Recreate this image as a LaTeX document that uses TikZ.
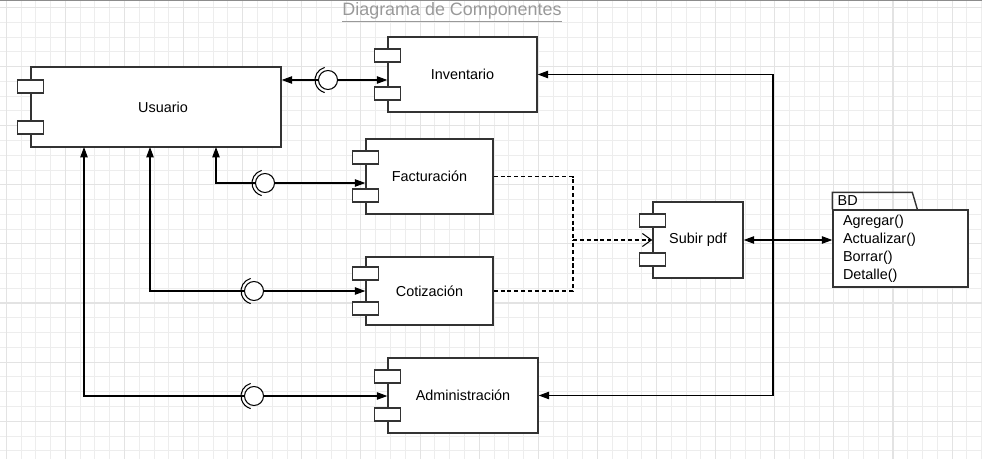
\documentclass[tikz,border=0pt]{standalone}
\usepackage{fontspec}
\setmainfont{Liberation Sans}
\usetikzlibrary{arrows.meta,calc}

\tikzset{
  comp/.style={draw=black!80, line width=0.8pt, fill=white, rectangle, inner sep=0pt,
    font=\fontsize{8.2}{10}\selectfont},
  port/.style={draw=black!80, line width=0.8pt, fill=white, rectangle, inner sep=0pt,
    minimum width=0.52cm, minimum height=0.26cm},
  flow/.style={line width=0.6pt, -{Triangle[length=2.1mm,width=1.5mm]}},
  flowboth/.style={line width=0.6pt, {Triangle[length=2.1mm,width=1.5mm]}-{Triangle[length=2.1mm,width=1.5mm]}},
  dep/.style={line width=0.6pt, dash pattern=on 2.3pt off 1.6pt},
  gridminor/.style={draw=black!7, line width=0.5pt},
  gridmajor/.style={draw=black!11, line width=0.6pt},
  lolli/.pic={
    \draw[line width=0.6pt, fill=white] (0,0) circle[radius=0.19cm];
    \draw[line width=0.6pt] (0,0) ++(105:0.26cm) arc[start angle=105, end angle=255, radius=0.26cm];
  }
}

\newcommand{\compports}[1]{%
  \node[port] (#1-p1) at ($(#1.north west)!0.25!(#1.south west)$) {};
  \node[port] (#1-p2) at ($(#1.north west)!0.75!(#1.south west)$) {};
}

\begin{document}
\begin{tikzpicture}[x=0.02cm, y=-0.02cm]
  \useasboundingbox (0,0) rectangle (982,459);

  % grid
  \foreach \i in {0,...,66} {
    \draw[gridminor] ({6.2+14.78*\i},0) -- ++(0,459);
  }
  \foreach \j in {0,...,30} {
    \draw[gridminor] (0,{7.4+14.78*\j}) -- ++(982,0);
  }
  \foreach \i in {0,4,...,64} {
    \draw[gridmajor] ({6.2+14.78*\i},0) -- ++(0,459);
  }
  \foreach \j in {0,4,...,28} {
    \draw[gridmajor] (0,{7.4+14.78*\j}) -- ++(982,0);
  }
  \draw[draw=black!45, line width=0.8pt] (0,0.7) -- (982,0.7);

  \node[font=\fontsize{10.2}{12}\selectfont, text=black!40, anchor=base, inner sep=0pt] (titulo)
    at (452,15.5) {\underline{Diagrama de Componentes}};

  % components
  \node[comp, minimum width=5cm, minimum height=1.6cm] (usuario) at (156,107) {\hspace*{0.28cm}Usuario};
  \node[comp, minimum width=2.98cm, minimum height=1.5cm] (inventario) at (462.5,74.5) {Inventario};
  \node[comp, minimum width=2.54cm, minimum height=1.5cm] (facturacion) at (429.5,176.5) {Facturación};
  \node[comp, minimum width=2.54cm, minimum height=1.36cm] (cotizacion) at (429.5,291) {Cotización};
  \node[comp, minimum width=3cm, minimum height=1.5cm] (administracion) at (463,395.5) {Administración};
  \node[comp, minimum width=1.8cm, minimum height=1.52cm] (subir) at (698,240) {Subir pdf};

  % package BD
  \node[comp, minimum width=2.7cm, minimum height=1.54cm, text width=2.3cm, align=left,
    font=\fontsize{8.2}{10.2}\selectfont] (bd) at (900.5,248.5)
    {Agregar()\\Actualizar()\\Borrar()\\Detalle()};
  \draw[draw=black!80, line width=0.8pt] (bd.north west) -- ++(0,-17) -- ++(80,0) -- ++(5,17);
  \node[font=\fontsize{8.2}{10}\selectfont, anchor=west, inner sep=0pt] (bdtab)
    at ($(bd.north west)+(5,-8.5)$) {BD};

  \coordinate (lolI) at (328,80);
  \coordinate (lolF) at (265,183);
  \coordinate (lolC) at (254,291);
  \coordinate (lolA) at (254,396);
  \coordinate (usuF) at (216,147);
  \coordinate (usuC) at (150,147);
  \coordinate (usuA) at (84,147);
  \coordinate (junc) at (573,240);
  \coordinate (busT) at (773,74.5);
  \coordinate (busB) at (773,395.5);

  % interfaces
  \draw[flowboth] (usuario.east |- lolI) -- (inventario.west |- lolI);
  \draw[flowboth] (usuF) |- (facturacion.west |- lolF);
  \draw[flowboth] (usuC) |- (cotizacion.west |- lolC);
  \draw[flowboth] (usuA) |- (administracion.west |- lolA);

  \draw[dep] (facturacion.east) -| (junc);
  \draw[dep] (cotizacion.east) -| (junc);
  \draw[dep, -{Straight Barb[length=1.8mm,width=2.6mm]}] (junc) -- (subir.west);

  \draw[flowboth] (inventario.east) -- (busT) -- (busB) -- (administracion.east);
  \draw[flowboth] (subir.east) -- (subir.east -| bd.west);

  \compports{usuario}
  \compports{inventario}
  \compports{facturacion}
  \compports{cotizacion}
  \compports{administracion}
  \compports{subir}

  \pic at (lolI) {lolli};
  \pic at (lolF) {lolli};
  \pic at (lolC) {lolli};
  \pic at (lolA) {lolli};
\end{tikzpicture}
\end{document}
